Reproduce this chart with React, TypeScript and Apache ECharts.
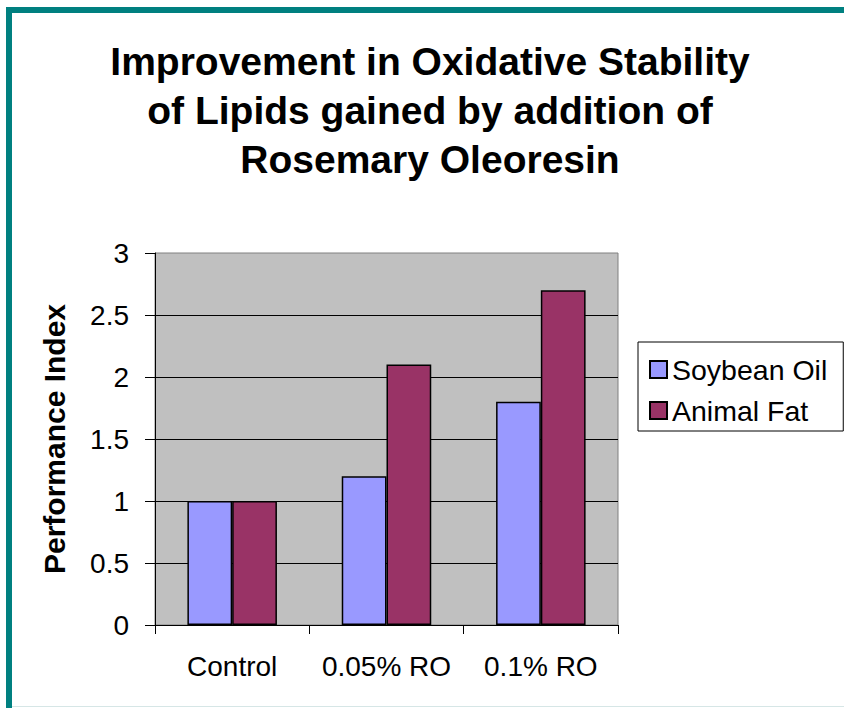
import React, { useEffect, useRef } from "react";
import * as echarts from "echarts";

const titleLines = [
  "Improvement in Oxidative Stability",
  "of Lipids gained by addition of",
  "Rosemary Oleoresin",
];
const categories = ["Control", "0.05% RO", "0.1% RO"];
const soybeanOil = [1, 1.2, 1.8];
const animalFat = [1, 2.1, 2.7];
const seriesNames = ["Soybean Oil", "Animal Fat"];
const yAxisName = "Performance Index";

const FONT = 'Arial, "Liberation Sans", Helvetica, sans-serif';

export default function App() {
  const ref = useRef<HTMLDivElement>(null);
  useEffect(() => {
    if (!ref.current) return;
    const chart = echarts.init(ref.current, null, { renderer: "svg" });
    chart.setOption({
      animation: false,
      backgroundColor: "#ffffff",
      title: {
        text: titleLines.join("\n"),
        left: 430,
        top: 37,
        textAlign: "center",
        padding: 0,
        textStyle: {
          fontFamily: FONT,
          fontWeight: "bold",
          fontSize: 39,
          lineHeight: 49,
          color: "#000",
        },
      },
      legend: {
        orient: "vertical",
        left: 638,
        top: 342,
        padding: [13, 16, 6, 11],
        itemGap: 12,
        itemWidth: 17,
        itemHeight: 17,
        itemTextGap: 11,
        icon: "rect",
        backgroundColor: "#fff",
        borderColor: "#000",
        borderWidth: 1,
        textStyle: { fontFamily: FONT, fontSize: 28.5, lineHeight: 28, color: "#000" },
        data: seriesNames,
      },
      grid: {
        left: 155,
        top: 253,
        right: 226,
        bottom: 83,
        show: true,
        backgroundColor: "#C0C0C0",
        borderColor: "#808080",
        borderWidth: 1,
        containLabel: false,
      },
      xAxis: {
        type: "category",
        data: categories,
        axisLine: { lineStyle: { color: "#000", width: 1 } },
        axisTick: { show: true, length: 9, lineStyle: { color: "#000" } },
        axisLabel: {
          fontFamily: FONT,
          fontSize: 28,
          color: "#000",
          margin: 27,
          interval: 0,
        },
      },
      yAxis: {
        type: "value",
        min: 0,
        max: 3,
        interval: 0.5,
        name: yAxisName,
        nameLocation: "middle",
        nameGap: 86,
        nameTextStyle: {
          fontFamily: FONT,
          fontWeight: "bold",
          fontSize: 30,
          color: "#000",
        },
        axisLine: { show: true, lineStyle: { color: "#000", width: 1 } },
        axisTick: { show: true, length: 10, lineStyle: { color: "#000" } },
        axisLabel: {
          fontFamily: FONT,
          fontSize: 28,
          color: "#000",
          margin: 26,
        },
        splitLine: { show: true, showMaxLine: false, lineStyle: { color: "#000", width: 1 } },
      },
      series: [
        {
          name: seriesNames[0],
          type: "bar",
          data: soybeanOil,
          barGap: "0%",
          barCategoryGap: "42%",
          itemStyle: { color: "#9999FF", borderColor: "#000", borderWidth: 1.5 },
        },
        {
          name: seriesNames[1],
          type: "bar",
          data: animalFat,
          barGap: "0%",
          barCategoryGap: "42%",
          itemStyle: { color: "#993366", borderColor: "#000", borderWidth: 1.5 },
        },
      ],
      graphic: [
        { type: "rect", shape: { x: 6, y: 7, width: 838, height: 6 }, style: { fill: "#008080" }, z: 100 },
        { type: "rect", shape: { x: 6, y: 7, width: 6, height: 701 }, style: { fill: "#008080" }, z: 100 },
        { type: "rect", shape: { x: 12, y: 706, width: 832, height: 1 }, style: { fill: "#D6E6E6" }, z: 100 },
      ],
    });
    return () => chart.dispose();
  }, []);
  return (
    <div
      ref={ref}
      style={{ position: "fixed", left: 0, top: 0, width: 844, height: 708 }}
    />
  );
}
